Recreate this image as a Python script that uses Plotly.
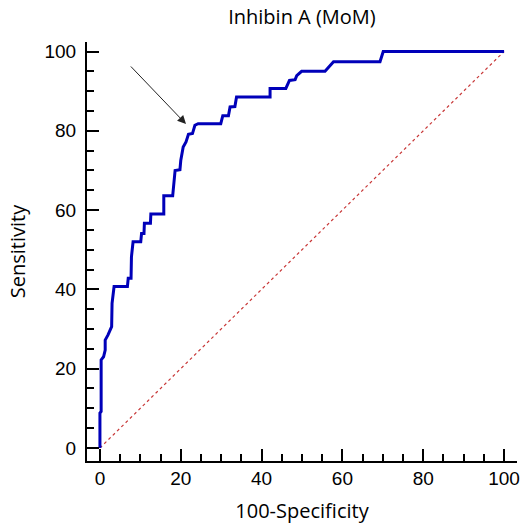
import plotly.graph_objects as go

# ROC curve vertices (100-Specificity, Sensitivity)
fpr = [0, 0, 0.3, 0.3, 0.9, 1.3, 1.3, 2.0, 2.9, 3.0, 3.5, 6.8, 7.0, 7.7, 7.8, 8.2,
       10.1, 10.3, 10.9, 11.0, 12.5, 12.6, 15.8, 15.8, 18.0, 18.2, 18.6, 19.8, 20.0,
       20.6, 21.3, 21.9, 22.9, 23.5, 24.3, 29.9, 30.4, 31.8, 32.2, 33.4, 33.8, 42.1,
       42.1, 46.0, 46.9, 48.3, 48.7, 49.9, 55.7, 57.8, 69.3, 70.1, 100]
tpr = [0, 8.8, 9.2, 22.2, 23.0, 24.7, 27.2, 28.5, 30.6, 36.5, 40.7, 40.7, 42.8, 42.8,
       48.2, 52.0, 52.0, 54.1, 54.1, 56.7, 56.7, 59.0, 59.0, 63.6, 63.6, 66.0, 70.0,
       70.2, 72.5, 75.9, 77.2, 79.1, 79.3, 81.4, 81.8, 81.8, 83.8, 83.8, 86.0, 86.1,
       88.5, 88.5, 90.7, 90.7, 92.7, 92.9, 93.9, 95.0, 95.0, 97.4, 97.4, 100, 100]

diag_x = [0, 100]
diag_y = [0, 100]

tick_vals = [0, 20, 40, 60, 80, 100]
tick_text = ["0", "20", "40", "60", "80", "100"]

title_text = "Inhibin A (MoM)"
x_title = "100-Specificity"
y_title = "Sensitivity"

# arrow (tail -> tip), data coordinates
arrow_tail = (7.3, 96.6)
arrow_tip = (21.3, 81.7)

fig = go.Figure()
fig.add_trace(go.Scatter(x=diag_x, y=diag_y, mode="lines",
                         line=dict(color="rgb(200,55,55)", width=1.2, dash="dot"),
                         hoverinfo="skip"))
fig.add_trace(go.Scatter(x=fpr, y=tpr, mode="lines",
                         line=dict(color="rgb(0,0,185)", width=3)))

fig.add_annotation(x=arrow_tip[0], y=arrow_tip[1], ax=arrow_tail[0], ay=arrow_tail[1],
                   xref="x", yref="y", axref="x", ayref="y", text="", showarrow=True,
                   arrowhead=2, arrowsize=1.7, arrowwidth=1, arrowcolor="#222")

axis_common = dict(
    showgrid=False, zeroline=False, showline=True, linecolor="black", linewidth=2,
    ticks="inside", ticklen=12, tickwidth=2, tickcolor="black",
    tickvals=tick_vals, ticktext=tick_text, automargin=False,
    tickfont=dict(family="Liberation Sans", size=19, color="black"),
    minor=dict(ticks="inside", ticklen=7, tickwidth=1.5, tickcolor="black", dtick=5, tick0=0),
)

fig.update_layout(
    width=522, height=525,
    margin=dict(l=87, r=5, t=42, b=64),
    paper_bgcolor="white", plot_bgcolor="white",
    showlegend=False,
    title=dict(text=title_text, x=0.5785, xanchor="center", y=0.967, yanchor="middle",
               font=dict(family="Open Sans", size=20, color="black")),
    xaxis=dict(range=[-3.2, 103.2], ticklabelstandoff=-1,
               title=dict(text=x_title, standoff=16,
                          font=dict(family="Open Sans", size=20, color="black")),
               **axis_common),
    yaxis=dict(range=[-3.3, 102.4], ticklabelstandoff=5,
               title=dict(text=y_title, standoff=13,
                          font=dict(family="Open Sans", size=20, color="black")),
               **axis_common),
)

fig.write_html("out.html", config={"displayModeBar": False},
               post_script="document.body.style.margin='0';document.body.style.padding='0';")
